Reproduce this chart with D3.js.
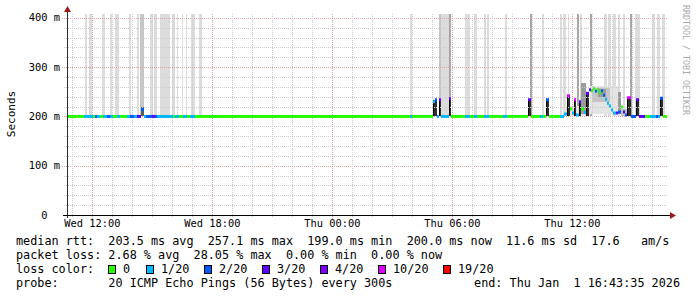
<!DOCTYPE html>
<html><head><meta charset="utf-8">
<script src="https://cdn.jsdelivr.net/npm/d3@7/dist/d3.min.js"></script>
<style>html,body{margin:0;padding:0;background:#fff}svg{display:block}text{white-space:pre}</style>
</head><body><svg id="c" width="697" height="297"></svg>
<script>
// time in hours since Wed 00:00 (Wed 31 Dec 2025); window = last 30 h ending Thu 16:43:35
const startHour = 10.7264, endHour = 40.7264;
const lossLabels = ["0","1/20","2/20","3/20","4/20","10/20","19/20"];
const lossColors = ["#26ff00","#00b8ff","#0059ff","#5e00ff","#7e00ff","#dd00ff","#ff0000"];

// median rtt samples (step): start hour, rtt ms, loss class
const medTime = [10.7264,11.6,12.05,12.15,12.25,12.4,12.55,12.75,12.9,13.05,13.25,13.4,13.75,13.9,14.1,14.25,14.45,14.6,14.7,15.0,15.15,15.25,16.05,16.15,16.35,16.55,16.75,16.9,17.15,
  27.9,28.0,29.05,29.15,29.25,29.35,29.45,29.85,29.95,30.65,30.9,31.1,31.25,31.6,31.85,32.55,32.75,33.8,33.95,34.4,34.55,34.7,34.85,35.4,35.6,35.75,35.9,36.0,36.1,36.2,36.35,36.45,36.6,36.7,36.85,36.95,37.05,37.15,37.25,37.35,37.45,37.55,37.65,37.75,37.85,37.95,38.05,38.2,38.3,38.45,38.55,38.65,38.75,38.95,39.2,39.35,39.65,39.9,40.2,40.3,40.4,40.55];
const medRtt = [200,200,200,200,200,200,200,200,200,200,200,200,200,200,200,200,214,200,200,200,200,200,200,200,200,200,200,200,200,
  200,200,230,234,200,234,200,236,200,200,200,200,200,200,200,200,200,234,200,200,200,234,200,200,205,242,215,207,234,203,230,215,208,247,254,252,256,251,254,248,252,243,235,227,221,213,207,207,209,219,209,203,238,200,234,200,200,200,200,200,237,200];
const medLoss = [0,1,0,2,1,0,1,2,1,0,1,0,1,2,1,3,2,1,2,3,2,1,0,1,0,1,0,1,0,
  1,0,1,2,1,3,1,3,0,1,0,1,0,1,0,1,0,3,0,1,0,2,0,1,1,5,0,1,5,1,3,0,1,3,3,0,0,2,0,0,2,2,1,1,1,1,1,3,2,0,3,2,5,2,3,3,0,1,2,1,2,0];

// grey loss bars (hours) with shade class
const barStart = [11.65,11.85,12.5,12.9,13.15,13.85,14.25,14.4,14.9,15.1,15.4,16.0,16.25,16.5,16.7,16.95,17.35,27.9,29.35,29.35,29.85,30.65,31.1,31.6,31.75,32.65,33.9,34.5,35.4,35.55,35.8,36.25,36.4,36.9,37.6,37.8,38.05,38.3,38.55,38.9,39.15,40.0,40.25,40.5];
const barEnd   = [11.75,12.0,12.65,13.0,13.35,13.95,14.35,14.6,15.05,15.25,15.9,16.15,16.3,16.55,16.75,17.15,17.5,28.0,29.9,29.45,29.95,30.9,31.25,31.7,31.85,32.75,34.0,34.6,35.5,35.7,35.85,36.35,36.5,37.0,37.75,37.95,38.2,38.4,38.65,39.0,39.4,40.15,40.4,40.65];
const barShade = [0,0,0,0,0,0,0,1,0,0,0,0,0,0,0,0,0,0,0,1,2,0,0,0,0,0,2,0,0,0,0,2,0,2,0,0,0,0,0,2,0,0,0,0];
const barColors = ["#dcdcdc","#c6c6c6","#a6a6a6"];

// smoke (ping spread)
const smokeStart = [35.6,36.45,36.9,37.0,37.3,38.3,38.45,14.45,29.05,29.35,29.85,33.8,34.7,35.75,36.1,36.35,36.7,38.75,39.2,40.4];
const smokeEnd   = [36.9,36.7,38.3,37.9,37.7,38.45,38.75,14.6,29.25,29.45,29.95,33.95,34.85,35.9,36.2,36.45,36.85,38.95,39.35,40.55];
const smokeLo    = [200,205,205,230,240,205,200,200,200,200,200,200,200,200,200,200,200,200,200,200];
const smokeHi    = [222,268,262,258,256,250,215,220,234,234,236,234,234,242,233,230,247,238,234,237];
const smokeShade = [4,2,4,3,2,2,3,1,0,0,0,0,0,0,0,0,0,0,0,0];
const smokeColors = ["#2e2e2e","#5a5a5a","#9a9a9a","#c4c4c4","#e4e4e4"];

const yMax = 410, barTop = 408;
const yTickValues = [0,100,200,300,400];
const yTickLabels = ["0  ","100 m","200 m","300 m","400 m"];
const xTickHours = [12,18,24,30,36];
const xTickLabels = ["Wed 12:00","Wed 18:00","Thu 00:00","Thu 06:00","Thu 12:00"];

const legend1 = "median rtt:  203.5 ms avg  257.1 ms max  199.0 ms min  200.0 ms now  11.6 ms sd  17.6   am/s";
const legend2 = "packet loss: 2.68 % avg  28.05 % max  0.00 % min  0.00 % now";
const legend3 = "loss color:";
const legend4 = "probe:       20 ICMP Echo Pings (56 Bytes) every 300s";
const legendEnd = "end: Thu Jan  1 16:43:35 2026";
const boxX = [108,146,204,262,320,378,443];

const svg = d3.select("#c");
const x = d3.scaleLinear().domain([startHour, endHour]).range([67, 667]);
const y = d3.scaleLinear().domain([0, yMax]).range([215, 13]);
const mono = "'DejaVu Sans Mono', monospace";
const px = v => Math.round(x(v));
const py = v => Math.round(y(v));

// loss bars
const gBars = svg.append("g");
barStart.forEach((s,i)=>{
  gBars.append("rect").attr("x",px(s)).attr("width",Math.max(1,px(barEnd[i])-px(s)))
    .attr("y",py(barTop)).attr("height",py(200)-py(barTop)).attr("fill",barColors[barShade[i]]);
});
// smoke
const gSmoke = svg.append("g");
smokeStart.forEach((s,i)=>{
  gSmoke.append("rect").attr("x",px(s)).attr("width",Math.max(1,px(smokeEnd[i])-px(s)))
    .attr("y",py(smokeHi[i])).attr("height",py(smokeLo[i])-py(smokeHi[i])).attr("fill",smokeColors[smokeShade[i]]);
  if (smokeShade[i]===0) gSmoke.append("line").attr("x1",px(s)+0.5).attr("x2",px(s)+0.5)
    .attr("y1",py(smokeLo[i])).attr("y2",py(smokeHi[i])).attr("stroke","#000");
});

// grid
const gGrid = svg.append("g");
y.ticks(20).filter(v=>v>0).forEach(v=>{
  const major = v%100===0;
  gGrid.append("line").attr("x1",major?62:64).attr("x2",668).attr("y1",py(v)+0.5).attr("y2",py(v)+0.5)
    .attr("stroke",major?"#e0a4a4":"#cdcdcd").attr("stroke-dasharray","1,1");
});
x.ticks(30).forEach(h=>{
  const major = h%6===0;
  gGrid.append("line").attr("x1",px(h)+0.5).attr("x2",px(h)+0.5).attr("y1",14).attr("y2",major?219:217)
    .attr("stroke",major?"#e0a4a4":"#cdcdcd").attr("stroke-dasharray","1,1");
});

// median line
const gMed = svg.append("g");
medTime.forEach((t,i)=>{
  const t2 = i<medTime.length-1 ? medTime[i+1] : endHour;
  const c = lossColors[medLoss[i]];
  gMed.append("line").attr("x1",px(t)).attr("x2",px(t2)).attr("y1",y(medRtt[i])).attr("y2",y(medRtt[i]))
    .attr("stroke",c).attr("stroke-width",3);
});

// axes
svg.append("line").attr("x1",67.5).attr("x2",67.5).attr("y1",218).attr("y2",10).attr("stroke","#2c2c2c");
svg.append("line").attr("x1",63).attr("x2",671).attr("y1",215.5).attr("y2",215.5).attr("stroke","#000");
svg.append("path").attr("d","M64,12 L71,12 L67.5,6 Z").attr("fill","#a01818");
svg.append("path").attr("d","M670,212 L670,219 L676,215.5 Z").attr("fill","#a01818");

// tick labels
yTickValues.forEach((v,i)=>{
  svg.append("text").attr("x",60).attr("y",y(v)+3.5).attr("text-anchor","end")
    .attr("font-family",mono).attr("font-size","10.4px").attr("fill","#000").text(yTickLabels[i]);
});
xTickHours.forEach((h,i)=>{
  svg.append("text").attr("x",x(h)).attr("y",227).attr("text-anchor","middle")
    .attr("font-family",mono).attr("font-size","10.4px").attr("fill","#000").text(xTickLabels[i]);
});
svg.append("text").attr("transform","translate(15,114) rotate(-90)").attr("text-anchor","middle")
  .attr("font-family",mono).attr("font-size","11px").attr("fill","#000").text("Seconds");
svg.append("text").attr("transform","translate(683,5) rotate(90)").attr("text-anchor","start")
  .attr("font-family",mono).attr("font-size","8.3px").attr("fill","#aaaaaa").text("RRDTOOL / TOBI OETIKER");

// legend
const lf = "11.8px";
[[legend1,245],[legend2,259],[legend3,273],[legend4,287]].forEach(([t,yy])=>{
  svg.append("text").attr("x",16).attr("y",yy).attr("font-family",mono).attr("font-size",lf).attr("fill","#000").text(t);
});
svg.append("text").attr("x",680).attr("y",287).attr("text-anchor","end").attr("font-family",mono).attr("font-size",lf).attr("fill","#000").text(legendEnd);
lossLabels.forEach((l,i)=>{
  svg.append("rect").attr("x",boxX[i]+0.5).attr("y",265.5).attr("width",7).attr("height",8)
    .attr("fill",lossColors[i]).attr("stroke","#000");
  svg.append("text").attr("x",boxX[i]+15).attr("y",273).attr("font-family",mono).attr("font-size",lf).attr("fill","#000").text(l);
});
</script></body></html>
